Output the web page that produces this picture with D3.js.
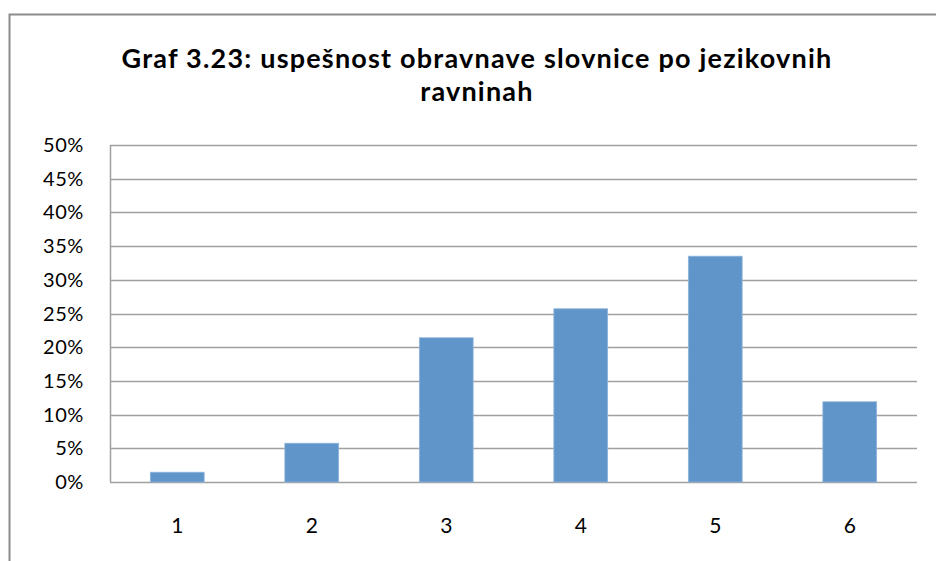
<!DOCTYPE html>
<html>
<head>
<meta charset="utf-8">
<script src="https://cdn.jsdelivr.net/npm/d3@7"></script>
<style>
  body { margin: 0; background: #fff; }
  text { font-family: Lato, "Open Sans", sans-serif; fill: #000; }
</style>
</head>
<body>
<svg id="chart" width="936" height="561"></svg>
<script>
var categories = ['1', '2', '3', '4', '5', '6']
var values = [0.0145, 0.0575, 0.214, 0.257, 0.335, 0.119]
var yTicks = [0, 0.05, 0.1, 0.15, 0.2, 0.25, 0.3, 0.35, 0.4, 0.45, 0.5]
var titleLines = ['Graf 3.23: uspešnost obravnave slovnice po jezikovnih', 'ravninah']

var svg = d3.select('#chart')

// outer chart frame (runs off the right and bottom edges)
svg.append('rect')
   .attr('x', 9.5).attr('y', 14.5)
   .attr('width', 1000).attr('height', 1000)
   .attr('fill', 'none')
   .attr('stroke', '#8c8c8c')
   .attr('stroke-width', 2)

var plotL = 110, plotR = 917, plotT = 145, plotB = 482

var x = d3.scaleBand()
          .domain(categories)
          .range([plotL, plotR])

var y = d3.scaleLinear()
          .domain([0, 0.5])
          .range([plotB, plotT])

// title
svg.append('text')
   .attr('font-weight', 'bold')
   .attr('font-size', 27)
   .attr('letter-spacing', 1.2)
   .attr('text-anchor', 'middle')
   .selectAll('tspan')
   .data(titleLines)
   .enter()
   .append('tspan')
   .attr('x', 477)
   .attr('y', (d, i) => 68 + i * 33)
   .text(d => d)

// grid
svg.append('g')
   .selectAll('line')
   .data(yTicks)
   .enter()
   .append('line')
   .attr('x1', plotL)
   .attr('x2', plotR)
   .attr('y1', d => Math.round(y(d)) + 0.5)
   .attr('y2', d => Math.round(y(d)) + 0.5)
   .attr('stroke', '#a0a0a0')
   .attr('stroke-width', 1.5)

// y axis line
svg.append('line')
   .attr('x1', plotL + 0.5).attr('x2', plotL + 0.5)
   .attr('y1', plotT).attr('y2', plotB)
   .attr('stroke', '#a0a0a0')
   .attr('stroke-width', 1.5)

// y labels
svg.append('g')
   .selectAll('text')
   .data(yTicks)
   .enter()
   .append('text')
   .attr('x', 84)
   .attr('y', d => y(d))
   .attr('dy', '0.35em')
   .attr('text-anchor', 'end')
   .attr('font-size', 20)
   .attr('letter-spacing', 0.6)
   .text(d => d3.format('.0%')(d))

// bars
var bw = x.bandwidth() * 0.4
svg.append('g')
   .selectAll('rect')
   .data(values)
   .enter()
   .append('rect')
   .attr('x', (d, i) => x(categories[i]) + (x.bandwidth() - bw) / 2)
   .attr('y', d => y(d))
   .attr('width', bw)
   .attr('height', d => y(0) - y(d))
   .attr('fill', '#6095c9')
   .attr('stroke', '#8fb4dc')
   .attr('stroke-width', 0.8)

// x labels
svg.append('g')
   .selectAll('text')
   .data(categories)
   .enter()
   .append('text')
   .attr('x', d => x(d) + x.bandwidth() / 2)
   .attr('y', 526)
   .attr('dy', '0.35em')
   .attr('text-anchor', 'middle')
   .attr('font-size', 21)
   .text(d => d)
</script>
</body>
</html>
